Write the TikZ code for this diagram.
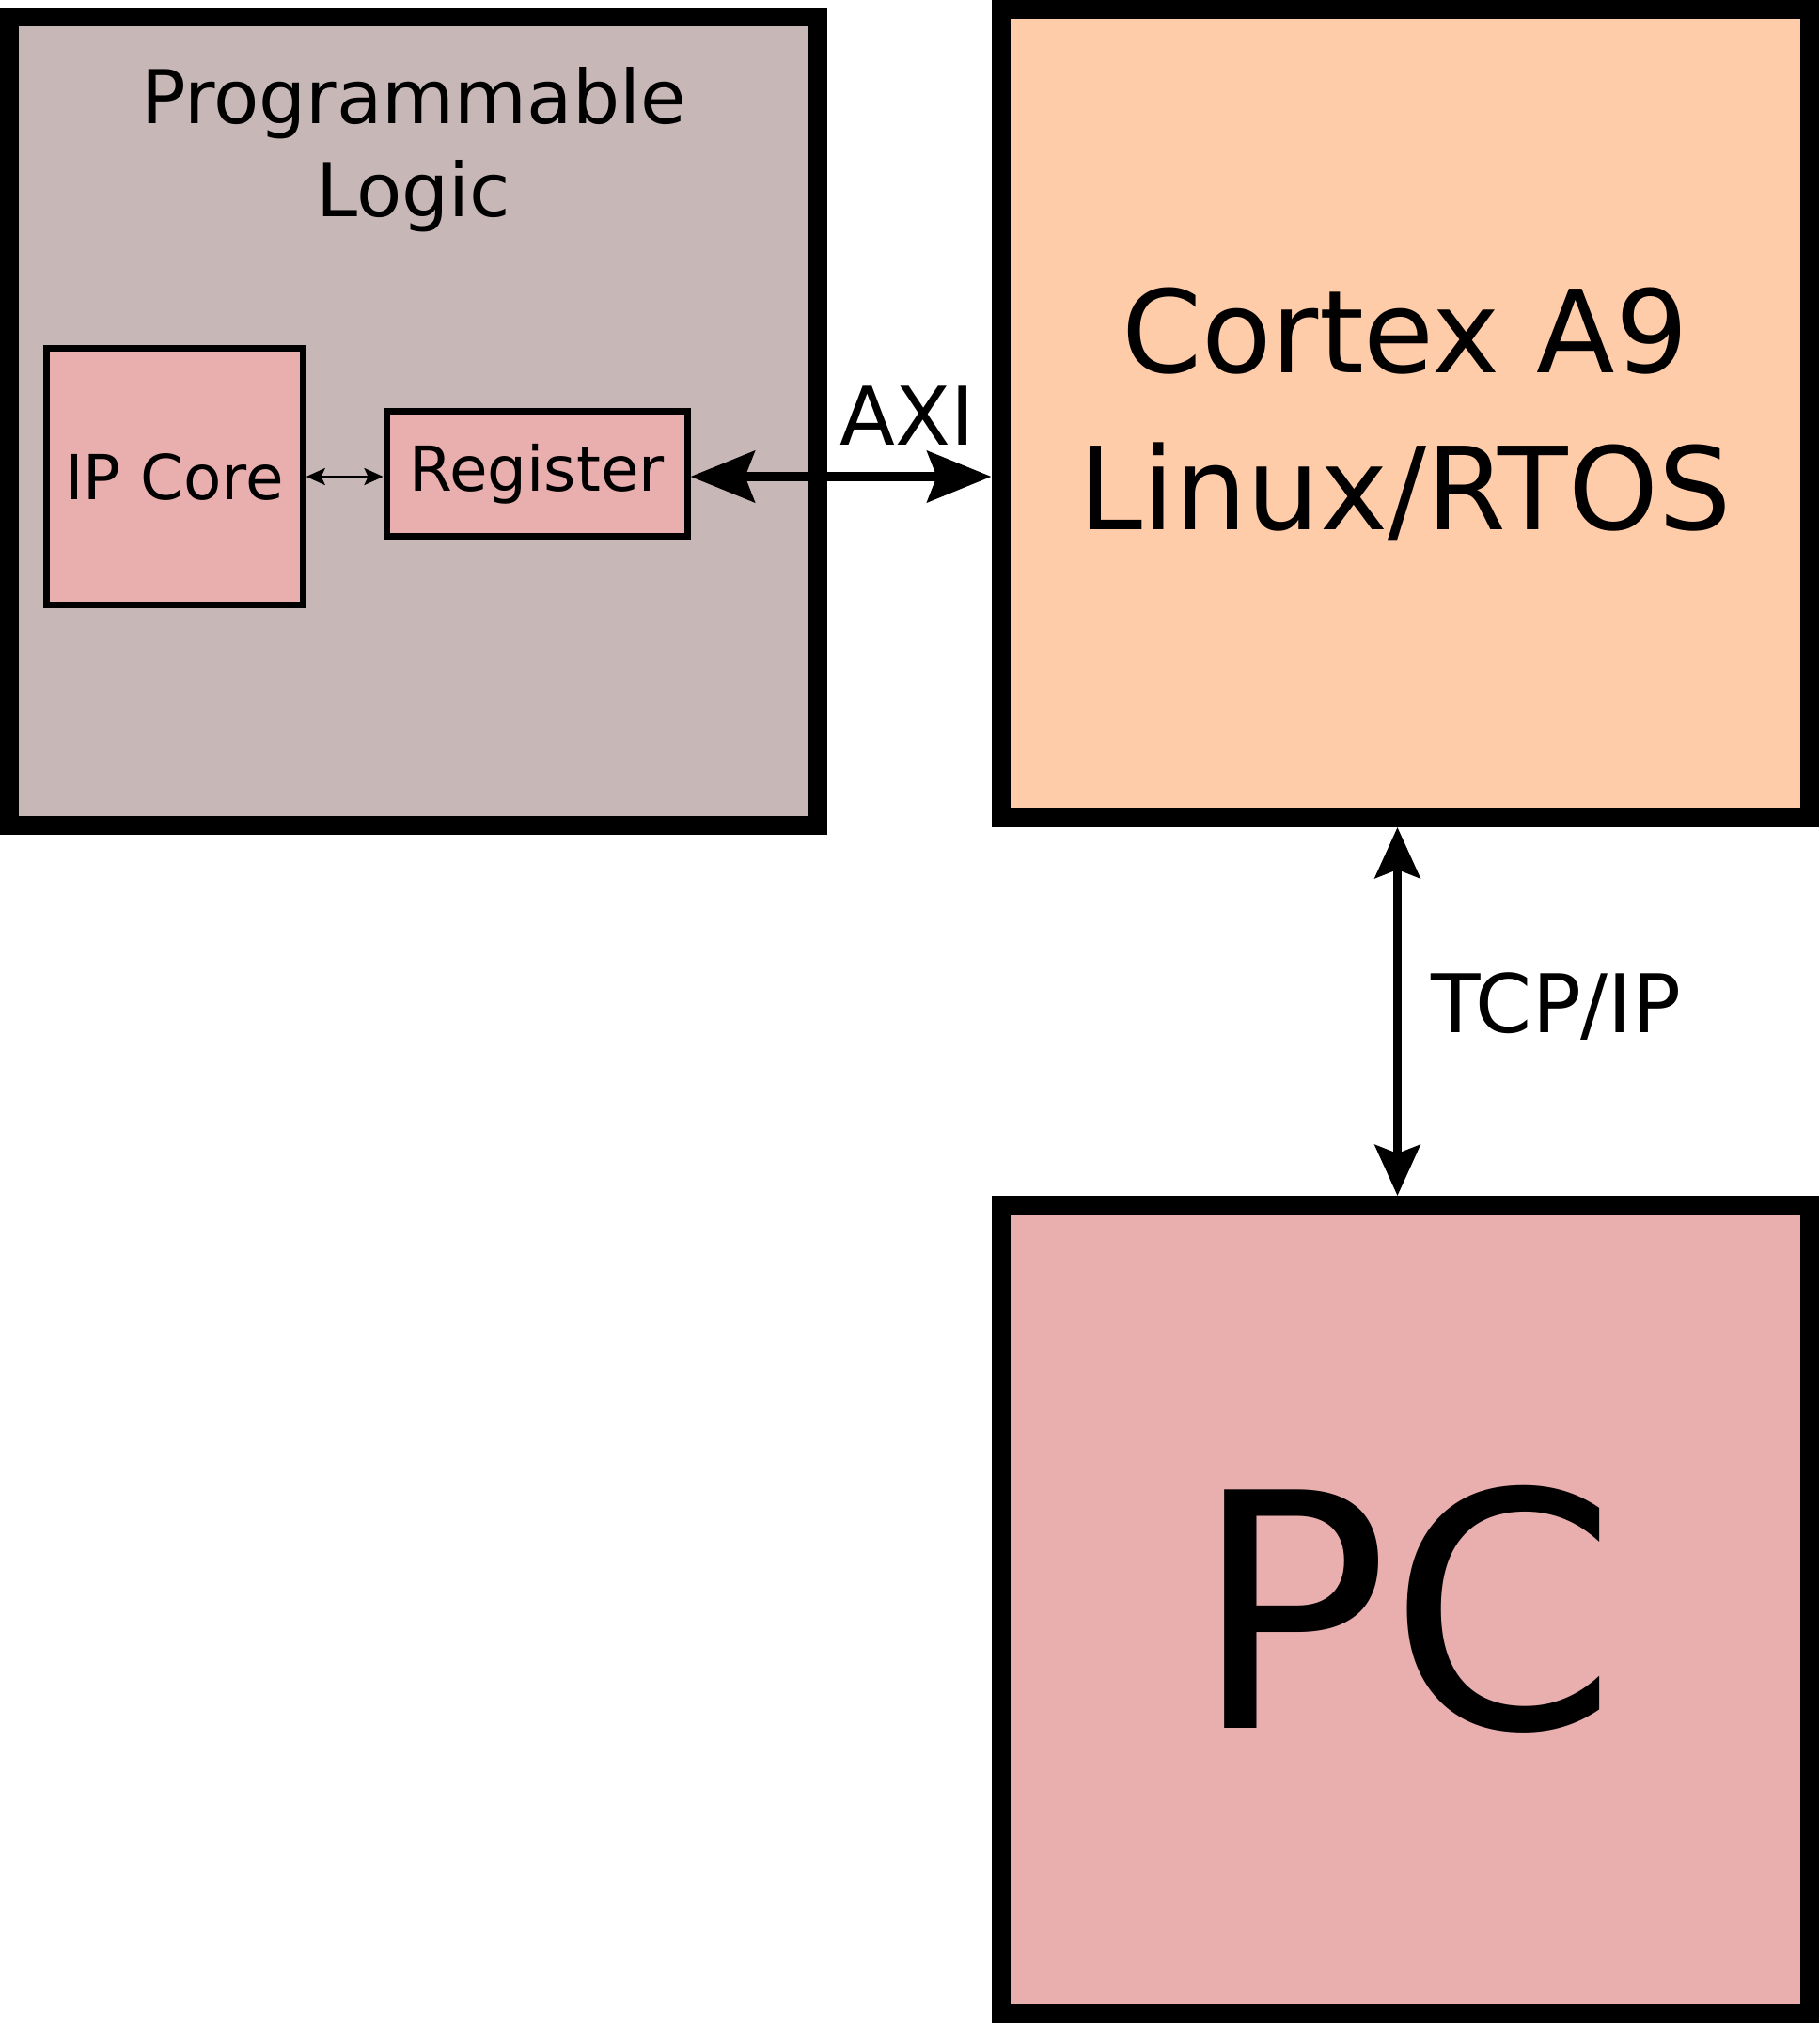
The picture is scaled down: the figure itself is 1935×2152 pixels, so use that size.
\documentclass[tikz,border=0pt]{standalone}
\usepackage{fontspec}
\setmainfont{DejaVu Sans}
\usetikzlibrary{arrows.meta}
\definecolor{plgray}{HTML}{C8B7B7}
\definecolor{armorange}{HTML}{FFCCAA}
\definecolor{blockpink}{HTML}{E9AFAF}
\tikzset{
  bigbox/.style={draw, line width=10pt, inner sep=0pt, minimum width=430pt, minimum height=430pt},
  smallbox/.style={draw, line width=3.5pt, fill=blockpink, inner sep=0pt, font=\fontsize{33}{40}\selectfont},
  biglabel/.style={font=\fontsize{43}{52}\selectfont, inner sep=0pt},
  axiarrow/.style={line width=5pt, >={Stealth[length=34pt,width=27pt,inset=5pt]}, <->},
  tcparrow/.style={line width=4.25pt, >={Stealth[length=27pt,width=24pt,inset=4.5pt]}, <->},
  thinarrow/.style={line width=1.25pt, >={Stealth[length=10pt,width=9pt,inset=2pt]}, <->},
}
\begin{document}
\begin{tikzpicture}[x=0.5pt,y=-0.5pt]
        \useasboundingbox (0,0) rectangle (1935,2152);
        % the three big blocks
        \node[bigbox, fill=plgray] (pl) at (440,447.5) {};
        \node[bigbox, fill=armorange, align=center, font=\fontsize{61}{83.5}\selectfont] (cortex) at (1494.5,440) {Cortex A9\\Linux/RTOS};
        \node[bigbox, fill=blockpink, font=\fontsize{174}{200}\selectfont] (pc) at (1494.5,1712) {PC};
        \node[align=center, anchor=north, inner sep=0pt, font=\fontsize{39.5}{49.5}\selectfont] (pltitle) at (440,71) {Programmable\\Logic};
        % inside the programmable logic
        \node[smallbox, minimum width=136.5pt, minimum height=136.5pt] (ipcore) at (185.75,507) {IP Core};
        \node[smallbox, minimum width=160pt, minimum height=66.5pt] (register) at (571,504) {Register};
        \draw[thinarrow] (ipcore.east) -- (ipcore.east -| register.west);
        % buses
        \draw[axiarrow] (ipcore.east -| register.east) -- (ipcore.east -| cortex.west);
        \node[biglabel, anchor=base] (axi) at (965,473) {AXI};
        \draw[tcparrow] ([xshift=-4pt]cortex.south) -- ([xshift=-4pt]pc.north);
        \node[biglabel, anchor=base west] (tcp) at (1522,1098) {TCP/IP};
\end{tikzpicture}
\end{document}
